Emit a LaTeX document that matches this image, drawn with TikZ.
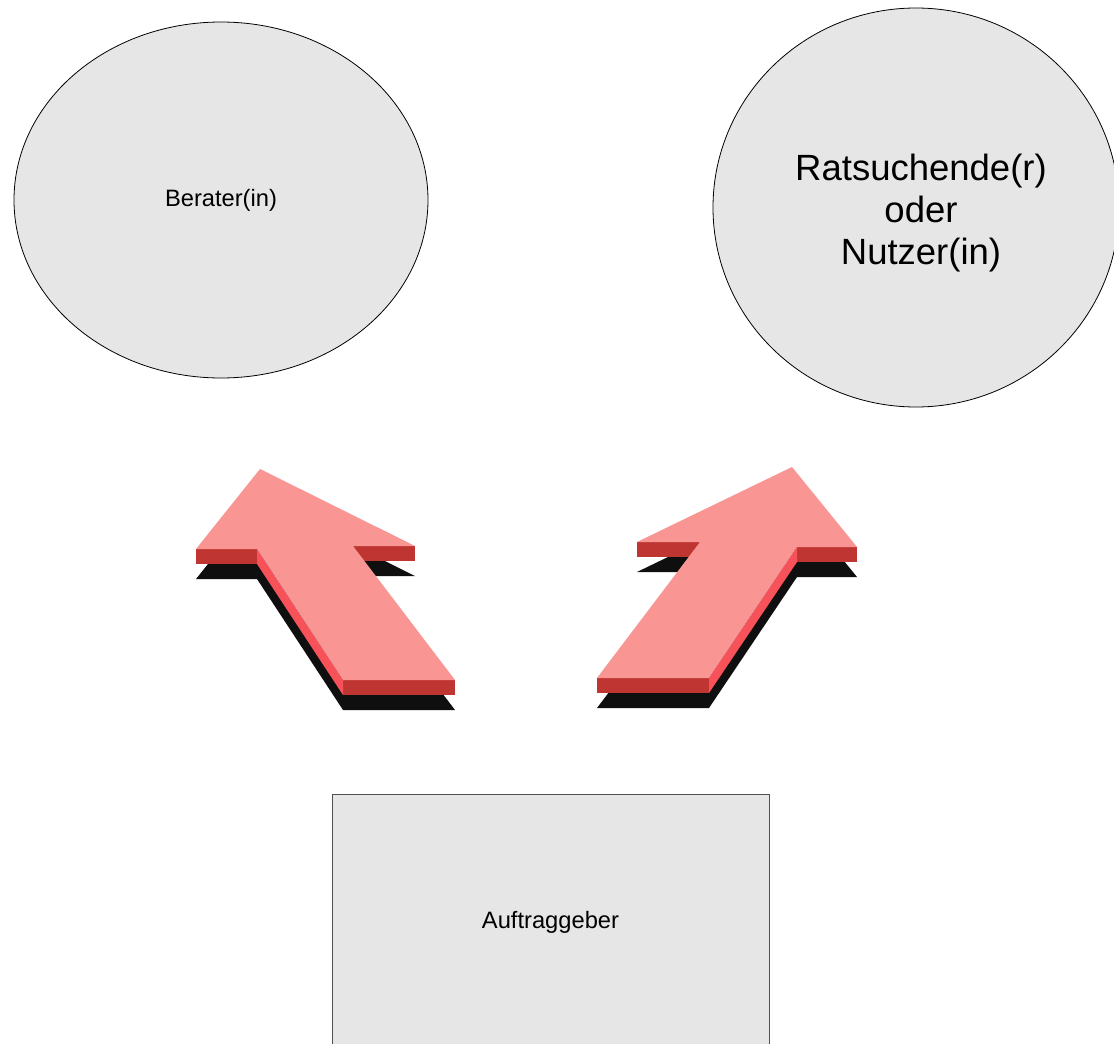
\documentclass[tikz,border=0pt]{standalone}
\usepackage{fontspec}
\setmainfont{Liberation Sans}
\usetikzlibrary{shapes.geometric}
\definecolor{shapefill}{HTML}{E6E6E6}
\definecolor{arrowtop}{HTML}{F99593}
\definecolor{arrowfront}{HTML}{BE3532}
\definecolor{arrowside}{HTML}{F7525A}
\definecolor{arrowshadow}{HTML}{0F0F0F}
\definecolor{boxline}{HTML}{505050}
\begin{document}
\begin{tikzpicture}[x=1pt,y=-1pt,
  oval/.style={ellipse,draw=black,line width=0.8pt,fill=shapefill,inner sep=0pt,align=center},
  boxnode/.style={rectangle,draw=boxline,line width=1pt,fill=shapefill,inner sep=0pt,align=center},
  topface/.style={fill=arrowtop},
  frontface/.style={fill=arrowfront},
  sideface/.style={fill=arrowside},
  shadowface/.style={fill=arrowshadow}]
\useasboundingbox (0,0) rectangle (1114,1044);
\clip (0,0) rectangle (1114,1044);
\fill[white] (0,0) rectangle (1114,1044);

% ellipses
\node[oval,minimum width=414pt,minimum height=356pt,font=\fontsize{23.7}{28}\selectfont] (berater) at (221,200) {Berater(in)};
\node[oval,minimum width=406pt,minimum height=399pt] (ratsuchende) at (916,207.5) {};
\node[inner sep=0pt,align=center,font=\fontsize{36.5}{42}\selectfont] (ratsuchendetext) at (921,213) {Ratsuchende(r)\\oder\\Nutzer(in)};

% box
\node[boxnode,minimum width=437pt,minimum height=256pt,font=\fontsize{23.7}{28}\selectfont] (auftraggeber) at (550.5,922) {Auftraggeber};

% left arrow
\fill[shadowface,yshift=-30pt] (260,469) -- (415,546) -- (353,546) -- (455,680) -- (343,680) -- (257,549) -- (196,549) -- cycle;
\fill[frontface] (196,549) -- (257,549) -- (257,564) -- (196,564) -- cycle;
\fill[frontface] (353,546) -- (415,546) -- (415,561) -- (353,561) -- cycle;
\fill[frontface] (343,680) -- (455,680) -- (455,695) -- (343,695) -- cycle;
\fill[sideface] (257,549) -- (343,680) -- (343,695) -- (257,564) -- cycle;
\fill[topface] (260,469) -- (415,546) -- (353,546) -- (455,680) -- (343,680) -- (257,549) -- (196,549) -- cycle;

% right arrow
\fill[shadowface,yshift=-30pt] (792,467) -- (857,547) -- (797,547) -- (709,678) -- (597,678) -- (700,542) -- (637,542) -- cycle;
\fill[frontface] (637,542) -- (700,542) -- (700,557) -- (637,557) -- cycle;
\fill[frontface] (797,547) -- (857,547) -- (857,562) -- (797,562) -- cycle;
\fill[frontface] (597,678) -- (709,678) -- (709,693) -- (597,693) -- cycle;
\fill[sideface] (797,547) -- (709,678) -- (709,693) -- (797,562) -- cycle;
\fill[topface] (792,467) -- (857,547) -- (797,547) -- (709,678) -- (597,678) -- (700,542) -- (637,542) -- cycle;
\end{tikzpicture}
\end{document}
